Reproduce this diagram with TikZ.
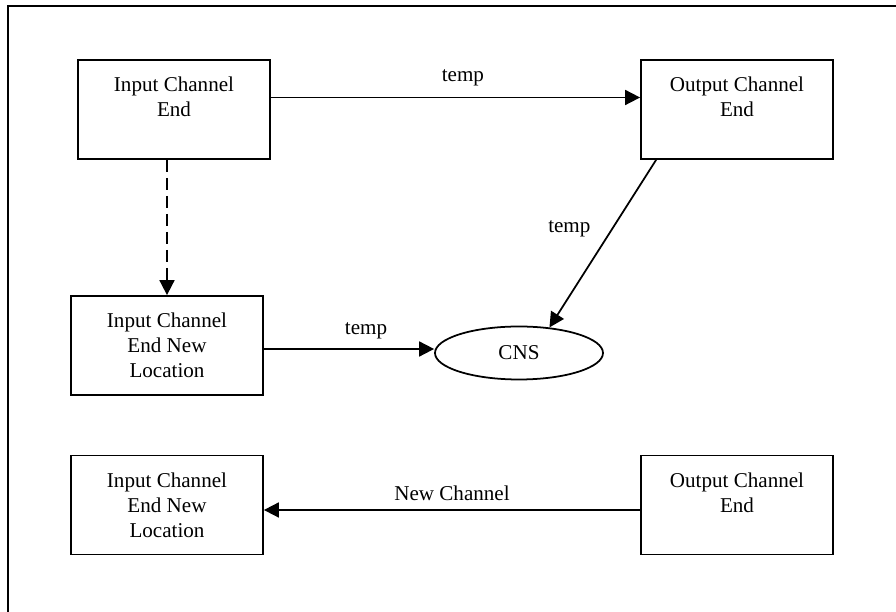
\documentclass[tikz,border=0pt]{standalone}
\usepackage{fontspec}
\setmainfont{Liberation Serif}
\usetikzlibrary{arrows.meta,positioning,calc,shapes.geometric}
\tikzset{
  box/.style={draw,line width=1pt,minimum width=3.84cm,minimum height=1.98cm,
              align=center,font=\fontsize{12}{14.2}\selectfont,inner sep=2pt},
  oval/.style={ellipse,draw,line width=1pt,minimum width=3.36cm,minimum height=1.06cm,
              font=\fontsize{12}{14.2}\selectfont,inner sep=0pt},
  ar/.style ={-{Triangle[length=3mm,width=3mm]},line width=1pt},
  dar/.style={ar,dash pattern=on 2.4mm off 1.2mm},
  lbl/.style={font=\fontsize{12}{14.2}\selectfont,inner sep=2pt},
  frm/.style={line width=1.5pt},
}
\begin{document}
\begin{tikzpicture}
  \useasboundingbox (0,0) rectangle (17.92,12.24);
  \draw[frm] (0.16,0) |- (17.92,12.12);
  % boxes
  \node[box] (inEnd)   at (3.48,10.05) {Input Channel\\End\\~};
  \node[box] (outEnd)  at (14.74,10.05){Output Channel\\End\\~};
  \node[box] (inNew)   at (3.34,5.33)  {Input Channel\\End New\\Location};
  \node[oval] (cns)    at (10.38,5.18) {CNS};
  \node[box] (inNewB)  at (3.34,2.14)  {Input Channel\\End New\\Location};
  \node[box] (outEndB) at (14.74,2.14) {Output Channel\\End\\~};
  % connectors
  \draw[ar] ([yshift=.24cm]inEnd.east) -- node[lbl,above=4pt,pos=.52]{temp} ([yshift=.24cm]outEnd.west);
  \draw[dar] (inNew.north |- inEnd.south) -- (inNew.north);
  \draw[ar] ([xshift=.32cm]outEnd.south west) -- node[lbl,left=10pt,pos=.41]{temp} (cns.40);
  \draw[ar] ([yshift=-.07cm]inNew.east) -- node[lbl,above=3pt,pos=.6]{temp} ([yshift=-.07cm]inNew.east -| cns.west);
  \draw[ar] ([yshift=-.1cm]outEndB.west) -- node[lbl,above=3pt]{New Channel} ([yshift=-.1cm]inNewB.east);
\end{tikzpicture}
\end{document}
